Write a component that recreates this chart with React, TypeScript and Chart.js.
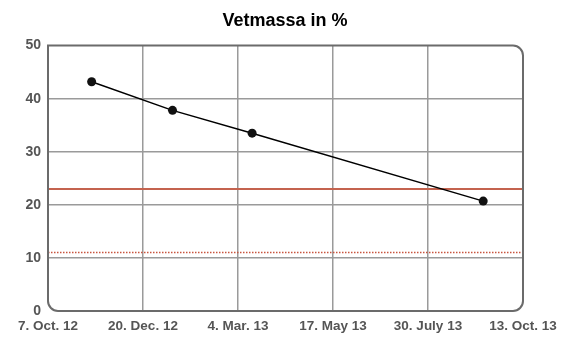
import React, { useEffect, useRef } from "react";
import { Chart, registerables } from "chart.js";

Chart.register(...registerables);

const titleText = "Vetmassa in %";
// x values: days since 7 Oct 2012
const measureDays = [34, 97, 159, 339];
const fatPercent = [43.2, 37.8, 33.5, 20.7];
const tickLabels = ["7. Oct. 12", "20. Dec. 12", "4. Mar. 13", "17. May 13", "30. July 13", "13. Oct. 13"];
const tickStepDays = 74;
const upperLimit = 23;
const lowerLimit = 11;
const yTicks = [0, 10, 20, 30, 40, 50];

const FONT = "Liberation Sans, Arial, sans-serif";

const frame = {
  id: "frame",
  afterDatasetsDraw(chart: any) {
    const { ctx, chartArea } = chart;
    const { left, top, right, bottom } = chartArea;
    ctx.save();
    ctx.strokeStyle = "#6b6b6b";
    ctx.lineWidth = 2;
    ctx.beginPath();
    (ctx as any).roundRect(left, top, right - left, bottom - top, [0, 10, 10, 10]);
    ctx.stroke();
    ctx.restore();
  },
};

export default function App() {
  const ref = useRef<HTMLCanvasElement | null>(null);
  useEffect(() => {
    if (!ref.current) return;
    const xMax = tickStepDays * (tickLabels.length - 1);
    const chart = new Chart(ref.current, {
      type: "line",
      data: {
        datasets: [
          {
            data: measureDays.map((d, i) => ({ x: d, y: fatPercent[i] })),
            borderColor: "#000",
            backgroundColor: "#000",
            borderWidth: 1.5,
            pointRadius: 4.5,
            pointBackgroundColor: "#111",
            pointBorderWidth: 0,
            order: 0,
          },
          {
            data: [{ x: 0, y: upperLimit }, { x: xMax, y: upperLimit }],
            borderColor: "#c4634f",
            borderWidth: 2,
            pointRadius: 0,
            order: 1,
          },
          {
            data: [{ x: 0, y: lowerLimit }, { x: xMax, y: lowerLimit }],
            borderColor: "#c8553f",
            borderWidth: 1.5,
            borderDash: [1.5, 1.5],
            pointRadius: 0,
            order: 2,
          },
        ],
      },
      options: {
        animation: false,
        responsive: false,
        maintainAspectRatio: false,
        layout: { padding: 0 },
        plugins: {
          legend: { display: false },
          tooltip: { enabled: false },
          title: {
            display: true,
            text: titleText,
            color: "#000",
            font: { family: FONT, size: 18, weight: "bold" },
            padding: { top: 10, bottom: 14 },
          },
        },
        scales: {
          x: {
            type: "linear",
            min: 0,
            max: xMax,
            afterBuildTicks: (s: any) => {
              s.ticks = tickLabels.map((_, i) => ({ value: i * tickStepDays }));
            },
            afterFit: (s: any) => {
              s.height = 49;
            },
            ticks: {
              autoSkip: false,
              maxRotation: 0,
              padding: 7,
              color: "#555",
              font: { family: FONT, size: 13.5, weight: "bold" },
              callback: (v: any) => tickLabels[Math.round(Number(v) / tickStepDays)] ?? "",
            },
            grid: {
              drawTicks: false,
              color: (c: any) =>
                c.index === 0 || c.index === tickLabels.length - 1 ? "rgba(0,0,0,0)" : "#9a9a9a",
              lineWidth: 1.5,
            },
            border: { display: false },
          },
          y: {
            min: 0,
            max: 50,
            afterBuildTicks: (s: any) => {
              s.ticks = yTicks.map((v) => ({ value: v }));
            },
            afterFit: (s: any) => {
              s.width = 48;
            },
            ticks: {
              padding: 7,
              color: "#555",
              font: { family: FONT, size: 14, weight: "bold" },
            },
            grid: {
              drawTicks: false,
              color: (c: any) =>
                c.tick && (c.tick.value === 0 || c.tick.value === 50) ? "rgba(0,0,0,0)" : "#9a9a9a",
              lineWidth: 1.5,
            },
            border: { display: false },
          },
          yRight: {
            position: "right",
            min: 0,
            max: 50,
            afterFit: (s: any) => {
              s.width = 47;
            },
            ticks: { display: false },
            grid: { display: false, drawTicks: false },
            border: { display: false },
          },
        },
      },
      plugins: [frame],
    });
    return () => chart.destroy();
  }, []);
  return (
    <div style={{ position: "fixed", left: 0, top: 0, width: 570, height: 360, background: "#fff" }}>
      <canvas ref={ref} width={570} height={360} />
    </div>
  );
}
